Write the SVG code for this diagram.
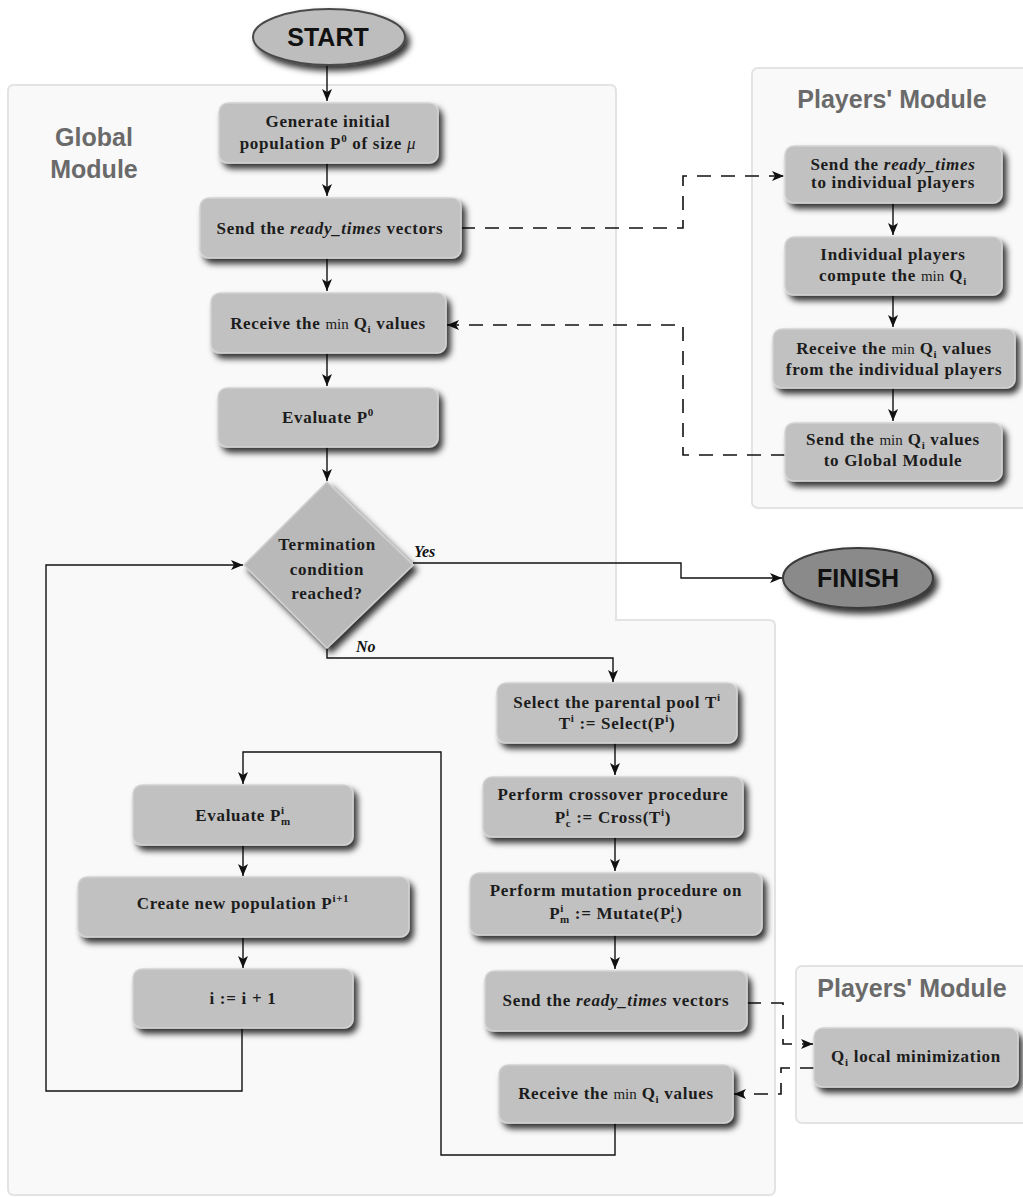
<svg xmlns="http://www.w3.org/2000/svg" width="1023" height="1197" viewBox="0 0 1023 1197">
<defs>
<style>
.panel{fill:#f9f9f9;stroke:#e3e3e3;stroke-width:2}
.box{fill:#c1c1c1;stroke:#d2d2d2;stroke-width:1.5;filter:url(#sh)}
.t{font-family:"Liberation Serif","Times New Roman",serif;font-weight:bold;font-size:17px;letter-spacing:0.7px;fill:#1c1c1c;text-anchor:middle}
.mod{font-family:"Liberation Sans",Arial,sans-serif;font-weight:bold;font-size:25px;fill:#6a6a6a;text-anchor:middle}
.term{font-family:"Liberation Sans",Arial,sans-serif;font-weight:bold;font-size:25px;fill:#111;text-anchor:middle}
.lbl{font-family:"Liberation Serif","Times New Roman",serif;font-weight:bold;font-style:italic;font-size:16px;fill:#111}
.ln{fill:none;stroke:#111;stroke-width:1.4}
.dash{fill:none;stroke:#111;stroke-width:1.6;stroke-dasharray:14 10}
.arr{marker-end:url(#ah)}
.sup{font-size:11px}
.mn{font-weight:normal;font-size:15px;letter-spacing:0}
.it{font-style:italic}
</style>
<filter id="sh" x="-15%" y="-30%" width="135%" height="170%">
<feGaussianBlur in="SourceAlpha" stdDeviation="3"/>
<feOffset dx="4" dy="5" result="b"/>
<feFlood flood-color="#000" flood-opacity="0.8"/>
<feComposite in2="b" operator="in"/>
<feMerge><feMergeNode/><feMergeNode in="SourceGraphic"/></feMerge>
</filter>
<marker id="ah" markerUnits="userSpaceOnUse" markerWidth="14" markerHeight="12" refX="12" refY="5" orient="auto">
<path d="M0,0 L12,5 L0,10 L3,5 Z" fill="#111"/>
</marker>
</defs>
<rect width="1023" height="1197" fill="#fff"/>

<g id="panels">
<path class="panel" d="M14,85 H610 Q616,85 616,91 V620 H769 Q775,620 775,626 V1189 Q775,1195 769,1195 H14 Q8,1195 8,1189 V91 Q8,85 14,85 Z"/>
<rect class="panel" x="752" y="68" width="290" height="440" rx="6"/>
<rect class="panel" x="796" y="966" width="250" height="157" rx="6"/>
<text class="mod" x="94" y="146">Global</text>
<text class="mod" x="94" y="178">Module</text>
<text class="mod" x="892" y="108">Players' Module</text>
<text class="mod" x="912" y="997">Players' Module</text>
</g>

<g id="connectors">
<path class="ln arr" d="M327,65 V101"/>
<path class="ln arr" d="M327,163 V196"/>
<path class="ln arr" d="M327,258 V291"/>
<path class="ln arr" d="M327,353 V386"/>
<path class="ln arr" d="M327,447 V481"/>
<path class="dash arr" d="M461,228 H683 V176 H784"/>
<path class="ln arr" d="M893,203 V235"/>
<path class="ln arr" d="M893,295 V327"/>
<path class="ln arr" d="M893,388 V421"/>
<path class="dash arr" d="M785,455 H683 V325 H447"/>
<path class="ln arr" d="M413,563 H681 V578 H782"/>
<path class="ln arr" d="M327,648 V658 H613 V682"/>
<path class="ln arr" d="M615,743 V775"/>
<path class="ln arr" d="M615,837 V871"/>
<path class="ln arr" d="M615,935 V969"/>
<path class="dash arr" d="M747,1003 H783 V1044 H813"/>
<path class="dash arr" d="M814,1068 H781 V1094 H734"/>
<path class="ln arr" d="M615,1123 V1155 H441 V752 H243 V784"/>
<path class="ln arr" d="M243,845 V876"/>
<path class="ln arr" d="M243,937 V968"/>
<path class="ln arr" d="M242,1028 V1091 H46 V565 H243"/>
<text class="lbl" x="414" y="557">Yes</text>
<text class="lbl" x="356" y="652">No</text>
</g>

<g id="start">
<ellipse cx="329" cy="37" rx="76" ry="28" fill="#bdbdbd" stroke="#4a4a4a" stroke-width="2" filter="url(#sh)"/>
<text class="term" x="328" y="46">START</text>
</g>

<g id="finish">
<ellipse cx="858" cy="578" rx="75" ry="30" fill="#8a8a8a" stroke="#3a3a3a" stroke-width="2" filter="url(#sh)"/>
<text class="term" x="858" y="587">FINISH</text>
</g>

<g id="generate">
<rect class="box" x="219" y="103" width="219" height="60" rx="9"/>
<text class="t" x="328" y="127">Generate initial</text>
<text class="t" x="328" y="149">population P<tspan class="sup" dy="-7">0</tspan><tspan dy="7"> of size </tspan><tspan class="it" font-weight="normal">μ</tspan></text>
</g>

<g id="send1">
<rect class="box" x="200" y="198" width="261" height="60" rx="9"/>
<text class="t" x="330" y="234">Send the <tspan class="it">ready_times</tspan> vectors</text>
</g>

<g id="receive1">
<rect class="box" x="211" y="293" width="235" height="60" rx="9"/>
<text class="t" x="328" y="329">Receive the <tspan class="mn">min</tspan> Q<tspan class="sup" dy="4">i</tspan><tspan dy="-4"> values</tspan></text>
</g>

<g id="evaluate0">
<rect class="box" x="218" y="388" width="220" height="59" rx="9"/>
<text class="t" x="328" y="423">Evaluate P<tspan class="sup" dy="-7">0</tspan></text>
</g>

<g id="termination">
<path d="M327,482 L413,565 L327,648 L244,565 Z" fill="#b9b9b9" stroke="#cfcfcf" stroke-width="1.5" filter="url(#sh)"/>
<text class="t" x="327" y="550">Termination</text>
<text class="t" x="327" y="575">condition</text>
<text class="t" x="327" y="599">reached?</text>
</g>

<g id="p-send">
<rect class="box" x="785" y="146" width="217" height="57" rx="9"/>
<text class="t" x="893" y="170">Send the <tspan class="it">ready_times</tspan></text>
<text class="t" x="893" y="188">to individual players</text>
</g>

<g id="p-compute">
<rect class="box" x="785" y="237" width="217" height="58" rx="9"/>
<text class="t" x="893" y="260">Individual players</text>
<text class="t" x="893" y="281">compute the <tspan class="mn">min</tspan> Q<tspan class="sup" dy="4">i</tspan></text>
</g>

<g id="p-receive">
<rect class="box" x="773" y="329" width="242" height="59" rx="9"/>
<text class="t" x="894" y="354">Receive the <tspan class="mn">min</tspan> Q<tspan class="sup" dy="4">i</tspan><tspan dy="-4"> values</tspan></text>
<text class="t" x="894" y="375">from the individual players</text>
</g>

<g id="p-send-min">
<rect class="box" x="785" y="423" width="217" height="58" rx="9"/>
<text class="t" x="893" y="445">Send the <tspan class="mn">min</tspan> Q<tspan class="sup" dy="4">i</tspan><tspan dy="-4"> values</tspan></text>
<text class="t" x="893" y="466">to Global Module</text>
</g>

<g id="select">
<rect class="box" x="497" y="683" width="240" height="60" rx="9"/>
<text class="t" x="617" y="708">Select the parental pool T<tspan class="sup" dy="-7">i</tspan></text>
<text class="t" x="617" y="729">T<tspan class="sup" dy="-7">i</tspan><tspan dy="7">  :=  Select(P</tspan><tspan class="sup" dy="-7">i</tspan><tspan dy="7">)</tspan></text>
</g>

<g id="crossover">
<rect class="box" x="483" y="777" width="260" height="60" rx="9"/>
<text class="t" x="613" y="800">Perform crossover procedure</text>
<text class="t" x="613" y="823">P<tspan class="sup" dy="-7">i</tspan><tspan class="sup" dx="-4" dy="11">c</tspan><tspan dy="-4"> := Cross(T</tspan><tspan class="sup" dy="-7">i</tspan><tspan dy="7">)</tspan></text>
</g>

<g id="mutation">
<rect class="box" x="470" y="873" width="292" height="62" rx="9"/>
<text class="t" x="616" y="896">Perform mutation procedure on</text>
<text class="t" x="616" y="919">P<tspan class="sup" dy="-7">i</tspan><tspan class="sup" dx="-4" dy="11">m</tspan><tspan dy="-4"> := Mutate(P</tspan><tspan class="sup" dy="-7">i</tspan><tspan class="sup" dx="-4" dy="11">c</tspan><tspan dy="-4">)</tspan></text>
</g>

<g id="send2">
<rect class="box" x="485" y="971" width="262" height="60" rx="9"/>
<text class="t" x="616" y="1006">Send the <tspan class="it">ready_times</tspan> vectors</text>
</g>

<g id="receive2">
<rect class="box" x="499" y="1065" width="234" height="58" rx="9"/>
<text class="t" x="616" y="1099">Receive the <tspan class="mn">min</tspan> Q<tspan class="sup" dy="4">i</tspan><tspan dy="-4"> values</tspan></text>
</g>

<g id="local-min">
<rect class="box" x="814" y="1028" width="204" height="59" rx="9"/>
<text class="t" x="916" y="1062">Q<tspan class="sup" dy="4">i</tspan><tspan dy="-4"> local minimization</tspan></text>
</g>

<g id="evaluate-m">
<rect class="box" x="133" y="785" width="220" height="60" rx="9"/>
<text class="t" x="243" y="821">Evaluate P<tspan class="sup" dy="-7">i</tspan><tspan class="sup" dx="-4" dy="11">m</tspan></text>
</g>

<g id="create">
<rect class="box" x="78" y="877" width="331" height="60" rx="9"/>
<text class="t" x="243" y="909">Create new population P<tspan class="sup" dy="-7">i+1</tspan></text>
</g>

<g id="increment">
<rect class="box" x="133" y="969" width="220" height="59" rx="9"/>
<text class="t" x="243" y="1004">i := i + 1</text>
</g>
</svg>
